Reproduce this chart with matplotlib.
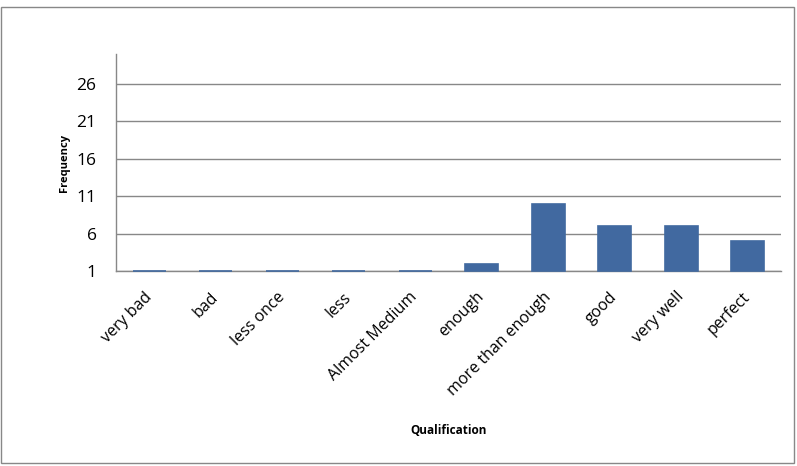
import numpy as np
import matplotlib.pyplot as plt
from matplotlib.patches import Rectangle

# Datos del gráfico
categorias = ['very bad', 'bad', 'less once', 'less', 'Almost Medium', 'enough',
              'more than enough', 'good', 'very well', 'perfect']
frecuencias = [1, 1, 1, 1, 1, 2, 10, 7, 7, 5]
ticks_y = [1, 6, 11, 16, 21, 26]

plt.rcParams['font.family'] = ['Open Sans', 'DejaVu Sans']

fig = plt.figure(figsize=(7.97, 4.66), dpi=100)
ax = fig.add_axes([116 / 797, 1 - 271 / 466, (781 - 116) / 797, (271 - 54) / 466])

x = np.arange(len(categorias))
base = 1
ax.bar(x, np.array(frecuencias) - base, bottom=base, width=0.5, color='#4169A0',
       edgecolor='#4169A0', linewidth=1.2, zorder=3, clip_on=False)

ax.set_xlim(-0.5, len(categorias) - 0.5)
ax.set_ylim(1, 30)
ax.set_yticks(ticks_y)
ax.set_yticklabels([str(t) for t in ticks_y], fontsize=12.5)
ax.set_xticks(x)
ax.set_xticklabels(categorias, rotation=45, ha='right', va='center',
                   rotation_mode='anchor', fontsize=11.5)
ax.tick_params(axis='x', length=0, pad=17)
ax.tick_params(axis='y', length=0, pad=14)

ax.grid(axis='y', color='#888888', linewidth=1, zorder=0)
for s in ['top', 'right']:
    ax.spines[s].set_visible(False)
ax.spines['left'].set_color('#888888')
ax.spines['bottom'].set_color('#888888')
ax.spines['left'].set_linewidth(1)
ax.spines['bottom'].set_linewidth(1)

ax.set_ylabel('Frequency', fontsize=8, fontweight='bold', labelpad=5)
ax.set_xlabel('Qualification', fontsize=8.5, fontweight='bold', labelpad=18)

# Marco exterior
fig.patches.append(Rectangle((1 / 797, 3 / 466), 793 / 797, 456 / 466, transform=fig.transFigure,
                             fill=False, edgecolor='#888888', linewidth=1))

fig.savefig('out.png', dpi=100)
